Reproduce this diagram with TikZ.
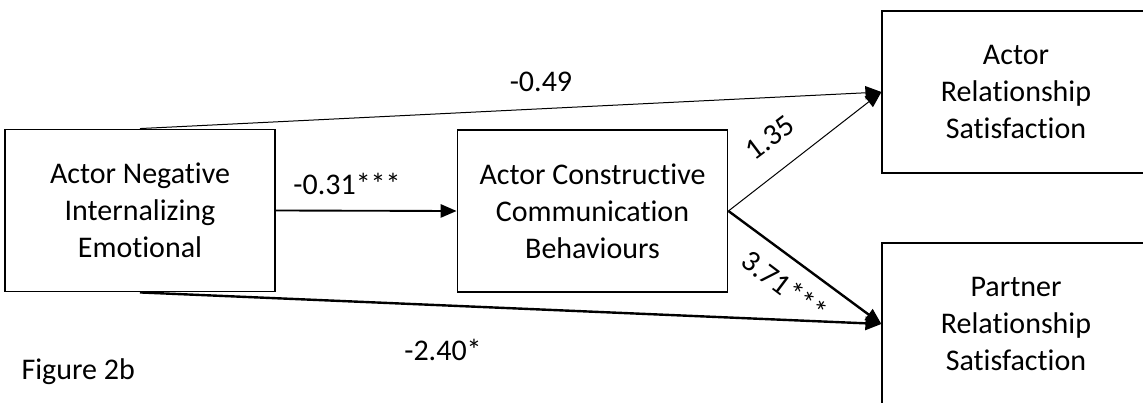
\documentclass[tikz,border=0pt]{standalone}
\usepackage{fontspec}
\setmainfont[Ligatures=NoCommon]{Carlito}
\usetikzlibrary{arrows.meta}
\begin{document}
\begin{tikzpicture}[x=0.75pt,y=-0.75pt,
  font=\fontsize{22.5pt}{27.75pt}\selectfont,
  box/.style={draw,line width=0.9pt,align=center,inner sep=0pt,minimum width=#1},
  thinarr/.style={line width=0.75pt,-{Triangle[length=12pt,width=10pt]}},
  thickarr/.style={line width=1.8pt,-{Triangle[length=12pt,width=10pt]}},
  lbl/.style={inner sep=1pt}]
\useasboundingbox (0,0) rectangle (1143,403);
\clip (0,0) rectangle (1143,403);
\node[box=202.5pt,minimum height=122pt] (ane) at (140,210.5) {Actor Negative\\Internalizing\\Emotional};
\node[box=203pt,minimum height=121.5pt] (acc) at (592.5,211) {Actor Constructive\\Communication\\Behaviours};
\node[box=201pt,minimum height=121.5pt] (ars) at (1016,92) {Actor\\Relationship\\Satisfaction};
\node[box=201pt,minimum height=121.5pt] (prs) at (1016,324) {Partner\\Relationship\\Satisfaction};
\draw[thinarr] (ane.north) -- (ars.west);
\draw[thickarr,line width=1.4pt] (ane.east) -- (acc.west);
\draw[thinarr] (acc.east) -- (ars.west);
\draw[thickarr] (acc.east) -- (prs.west);
\draw[thickarr] (ane.south) -- (prs.west);
\node[lbl] (l1) at (541,82) {-0.49};
\node[lbl] (l2) at (347,184) {-0.31***};
\node[lbl,rotate=37] (l3) at (770,138) {1.35};
\node[lbl,rotate=-37] (l4) at (785,286) {3.71***};
\node[lbl] (l5) at (443,350) {-2.40*};
\node[lbl,anchor=west] (fig) at (20,372) {Figure 2b};
\end{tikzpicture}
\end{document}
